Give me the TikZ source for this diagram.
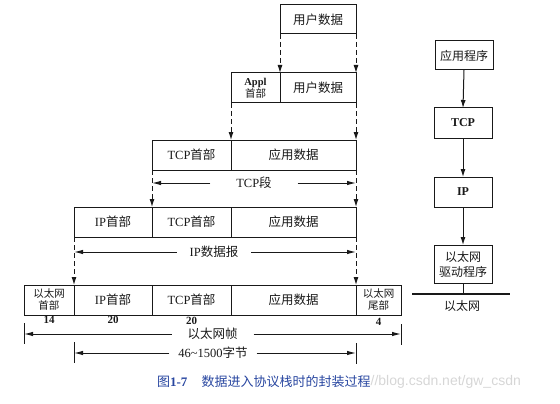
\documentclass[tikz,border=0pt]{standalone}
\usepackage{fontspec}
\setmainfont{Liberation Serif}
\newfontfamily\cjk{Noto Sans CJK SC}
\newfontfamily\wmfont{Liberation Sans}
\usetikzlibrary{arrows.meta}
\definecolor{capblue}{RGB}{40,70,160}
\definecolor{wmgray}{RGB}{214,214,214}
\definecolor{ink}{RGB}{25,25,25}
\begin{document}
\begin{tikzpicture}[x=1pt,y=-1pt,
  every node/.style={inner sep=0pt, outer sep=0pt, text=ink},
  box/.style={draw=ink, line width=1pt, minimum height=30pt, align=center,
    font=\fontsize{12.5}{14}\selectfont},
  small/.style={font=\cjk\fontsize{10.5}{12}\selectfont},
  dasharrow/.style={draw=ink, line width=1pt, dash pattern=on 5pt off 3pt,
    -{Latex[length=8pt,width=5pt]}},
  spanarrow/.style={draw=ink, line width=1pt, -{Latex[length=9pt,width=4.5pt]}},
  spanlabel/.style={font=\fontsize{12.5}{14}\selectfont},
  tickline/.style={draw=ink, line width=1pt},
  num/.style={font=\fontsize{11}{12}\selectfont\bfseries, anchor=north},
  stackbox/.style={draw=ink, line width=1pt, minimum width=58pt, align=center,
    font=\fontsize{12}{14}\selectfont},
  stackarrow/.style={draw=ink, line width=1pt, -{Latex[length=8pt,width=5pt]}},
]
\useasboundingbox (0,0) rectangle (560,404);

% row 1
\node[box, minimum width=76pt, minimum height=29pt] (u1) at (318,19.5) {\cjk 用户数据};
% row 2
\node[box, minimum width=49pt, small] (a2) at (255.5,88) {\textbf{\rmfamily Appl}\\首部};
\node[box, minimum width=76pt] (d2) at (318,88) {\cjk 用户数据};
% row 3
\node[box, minimum width=79pt] (t3) at (191.5,155) {TCP{\cjk 首部}};
\node[box, minimum width=125pt] (d3) at (293.5,155) {\cjk 应用数据};
% row 4
\node[box, minimum width=78pt] (i4) at (113,222) {IP{\cjk 首部}};
\node[box, minimum width=79pt] (t4) at (191.5,222) {TCP{\cjk 首部}};
\node[box, minimum width=125pt] (d4) at (293.5,222) {\cjk 应用数据};
% row 5
\node[box, minimum width=50pt, small] (e5) at (49,300) {以太网\\首部};
\node[box, minimum width=78pt] (i5) at (113,300) {IP{\cjk 首部}};
\node[box, minimum width=79pt] (t5) at (191.5,300) {TCP{\cjk 首部}};
\node[box, minimum width=125pt] (d5) at (293.5,300) {\cjk 应用数据};
\node[box, minimum width=45pt, small] (f5) at (378.5,300) {以太网\\尾部};

% byte counts
\node[num] (n14) at ([yshift=-1.5pt]e5.south) {14};
\node[num] (n20a) at ([yshift=-1.5pt]i5.south) {20};
\node[num] (n20b) at ([yshift=-2.5pt]t5.south) {20};
\node[num] (n4) at ([yshift=-3.5pt]f5.south) {4};

% dashed encapsulation arrows
\draw[dasharrow] (u1.south west) -- (a2.north east);
\draw[dasharrow] (u1.south east) -- (d2.north east);
\draw[dasharrow] (a2.south west) -- (t3.north east);
\draw[dasharrow] (d2.south east) -- (d3.north east);
\draw[dasharrow] (t3.south west) -- (t4.north west);
\draw[dasharrow] (d3.south east) -- (d4.north east);
\draw[dasharrow] (i4.south west) -- (i5.north west);
\draw[dasharrow] (d4.south east) -- (d5.north east);

% TCP segment span
\coordinate (tsL) at (152,183);
\coordinate (tsR) at (356,183);
\node[spanlabel, inner xsep=26pt] (tcpseg) at (254,183) {TCP{\cjk 段}};
\draw[spanarrow] (tcpseg.west) -- (tsL);
\draw[spanarrow] (tcpseg.east) -- (tsR);

% IP datagram span
\coordinate (ipL) at (74,252);
\coordinate (ipR) at (356,252);
\node[spanlabel, inner xsep=13pt] (ipdg) at (214,252) {IP{\cjk 数据报}};
\draw[spanarrow] (ipdg.west) -- (ipL);
\draw[spanarrow] (ipdg.east) -- (ipR);

% Ethernet frame span
\coordinate (efL) at (24,334);
\coordinate (efR) at (401,334);
\coordinate (efLt) at (24,323);
\coordinate (efLb) at (24,344);
\coordinate (efRt) at (401,324);
\coordinate (efRb) at (401,345);
\draw[tickline] (efLt) -- (efLb);
\draw[tickline] (efRt) -- (efRb);
\node[spanlabel, inner xsep=16pt] (ethframe) at (212.5,334) {\cjk 以太网帧};
\draw[spanarrow] (ethframe.west) -- (efL);
\draw[spanarrow] (ethframe.east) -- (efR);

% 46~1500 bytes span
\coordinate (byL) at (74,353);
\coordinate (byR) at (356,353);
\coordinate (byLt) at (74,342);
\coordinate (byLb) at (74,363);
\coordinate (byRt) at (356,343);
\coordinate (byRb) at (356,364);
\draw[tickline] (byLt) -- (byLb);
\draw[tickline] (byRt) -- (byRb);
\node[spanlabel, inner xsep=9pt] (bytes) at (213,353) {46\textasciitilde 1500{\cjk 字节}};
\draw[spanarrow] (bytes.west) -- (byL);
\draw[spanarrow] (bytes.east) -- (byR);

% protocol stack
\node[stackbox, minimum height=29pt] (app) at (464,55.5) {\cjk 应用程序};
\node[stackbox, minimum height=30pt] (tcp) at (463,123) {\textbf{TCP}};
\node[stackbox, minimum height=30pt] (ip) at (463,192) {\textbf{IP}};
\node[stackbox, minimum height=38pt, font=\cjk\fontsize{12}{15}\selectfont] (drv) at (463,264) {以太网\\驱动程序};
\draw[stackarrow] (app.south) -- (tcp.north);
\draw[stackarrow] (tcp.south) -- (ip.north);
\draw[stackarrow] (ip.south) -- (drv.north);
\coordinate (ethL) at (412,294);
\coordinate (ethR) at (510,294);
\draw[draw=ink, line width=2.4pt] (ethL) -- (ethR);
\draw[draw=ink, line width=1pt] (drv.south) -- (drv.south |- ethL);
\node[font=\fontsize{12}{14}\selectfont] (ethlbl) at (462,306) {\cjk 以太网};

% caption and watermark
\node[anchor=west, text=capblue, font=\fontsize{13}{15}\selectfont] (cap) at (157,382)
  {{\cjk 图}\textbf{1-7}\hspace{1.1em}{\cjk 数据进入协议栈时的封装过程}};
\node[anchor=west, text=wmgray, font=\wmfont\fontsize{14}{16}\selectfont] (wm) at (cap.east)
  {//blog.csdn.net/gw\_csdn};
\end{tikzpicture}
\end{document}
